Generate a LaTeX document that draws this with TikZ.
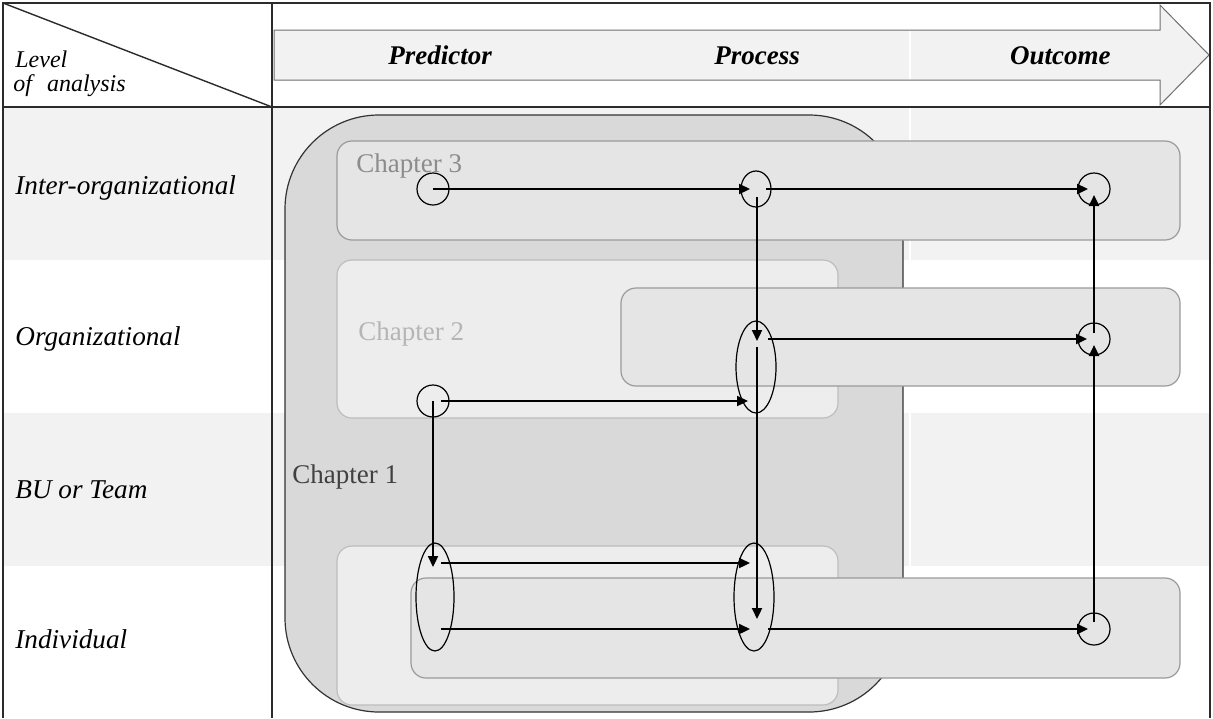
\documentclass[tikz,border=0pt]{standalone}
\usepackage{fontspec}
\setmainfont{Liberation Serif}
\usetikzlibrary{shapes.geometric,arrows.meta}
\definecolor{rowshade}{HTML}{F2F2F2}
\definecolor{chaponefill}{HTML}{D9D9D9}
\definecolor{chaponeline}{HTML}{333333}
\definecolor{boxafill}{HTML}{E5E5E5}
\definecolor{boxaline}{HTML}{9A9A9A}
\definecolor{boxbfill}{HTML}{EDEDED}
\definecolor{boxbline}{HTML}{BDBDBD}
\definecolor{arrowline}{HTML}{707070}
\definecolor{tableline}{HTML}{2B2B2B}
\definecolor{chapthree}{HTML}{8C8C8C}
\definecolor{chaptwo}{HTML}{B5B5B5}
\definecolor{chapone}{HTML}{404040}
\begin{document}
\begin{tikzpicture}[x=0.5pt,y=-0.5pt,
  rowlbl/.style={font=\fontsize{13.6pt}{16pt}\selectfont\itshape, anchor=base west, inner sep=0pt},
  hdrlbl/.style={font=\fontsize{13.5pt}{16pt}\selectfont\bfseries\itshape, anchor=base west, inner sep=0pt},
  corner/.style={font=\fontsize{12pt}{14pt}\selectfont\itshape, anchor=base west, inner sep=0pt},
  chaplbl/.style={font=\fontsize{13.5pt}{16pt}\selectfont, anchor=base west, inner sep=0pt},
  circ/.style={circle, draw=black, line width=0.6pt, minimum size=16pt, inner sep=0pt},
  ell/.style={ellipse, draw=black, line width=0.6pt, inner sep=0pt},
  arr/.style={line width=1.1pt, -{Triangle[length=5.5pt,width=5pt]}},
  boxa/.style={rounded corners=7.5pt, fill=boxafill, draw=boxaline, line width=0.6pt},
  boxb/.style={rounded corners=7.5pt, fill=boxbfill, draw=boxbline, line width=0.6pt},
  tbl/.style={draw=tableline, line width=0.7pt}
]
\useasboundingbox (0,0) rectangle (1213,718);
\fill[white] (0,0) rectangle (1213,718);

% row shading
\fill[rowshade] (3,107) rectangle (272,260);
\fill[rowshade] (272,107) rectangle (908.5,260);
\fill[rowshade] (910.5,107) rectangle (1210,260);
\fill[rowshade] (3,413) rectangle (272,566);
\fill[rowshade] (272,413) rectangle (908.5,566);
\fill[rowshade] (910.5,413) rectangle (1210,566);

% header arrow
\draw[draw=arrowline, fill=rowshade, line width=0.5pt]
  (274,30) -- (1160,30) -- (1160,5) -- (1209,55) -- (1160,105) -- (1160,80) -- (274,80) -- cycle;
\draw[white, line width=1pt] (910,31) -- (910,79);

% table lines
\draw[tbl] (3,718) -- (3,3) -- (1210,3) -- (1210,718);
\draw[tbl] (3,107) -- (1210,107);
\draw[tbl] (272,3) -- (272,718);
\draw[tbl] (3,3) -- (272,107);

% header labels
\node[corner] (level) at (15,67) {Level};
\node[corner] (ofanalysis) at (13,91) {of\hspace{7.5pt}analysis};
\node[hdrlbl] (predictor) at (388,64) {Predictor};
\node[hdrlbl] (process) at (714,64) {Process};
\node[hdrlbl, anchor=base east] (outcome) at (1111,64) {Outcome};

% row labels
\node[rowlbl] (interorg) at (15,194) {Inter-organizational};
\node[rowlbl] (org) at (15,345) {Organizational};
\node[rowlbl] (bu) at (15,498) {BU or Team};
\node[rowlbl] (indiv) at (15,648) {Individual};

% chapter 1
\draw[fill=chaponefill, draw=chaponeline, line width=0.6pt, rounded corners=47pt]
  (285,115) rectangle (903,712);
\node[chaplbl, text=chapone] (ch1) at (292,483) {Chapter 1};

% chapter 3 / chapter 2 boxes
\draw[boxa] (337,141) rectangle (1180,240);
\node[chaplbl, text=chapthree] (ch3) at (356,172) {Chapter 3};
\draw[boxb] (337,260) rectangle (838,418);
\node[chaplbl, text=chaptwo] (ch2) at (358,340) {Chapter 2};
\draw[boxa] (621,288) rectangle (1180,386);
\draw[boxb] (337,546) rectangle (838,705);
\draw[boxa] (411,578) rectangle (1180,678);

% circles and ellipses
\node[circ] (p3) at (433,189) {};
\node[ell, minimum width=15pt, minimum height=18pt] (m3) at (756,189) {};
\node[circ] (o3) at (1094,189) {};
\node[ell, minimum width=20pt, minimum height=46pt] (m2) at (756,367) {};
\node[circ] (o2) at (1094,339) {};
\node[circ] (p2) at (433,401) {};
\node[ell, minimum width=19pt, minimum height=54pt] (p1) at (435,597) {};
\node[ell, minimum width=20pt, minimum height=54pt] (m1) at (754,597) {};
\node[circ] (o1) at (1094,629) {};

% arrows
\draw[arr] (p3.center) -- ([xshift=-3pt]m3.center);
\draw[arr] ([xshift=5pt]m3.center) -- ([xshift=-3pt]o3.center);
\draw[arr] ([xshift=0.5pt,yshift=-4pt]m3.center) -- ([xshift=0.5pt,yshift=13pt]m2.center);
\draw[arr] ([xshift=6pt,yshift=14pt]m2.center) -- ([xshift=-3.5pt]o2.center);
\draw[arr] ([xshift=4pt]p2.center) -- ([xshift=-4pt,yshift=-17pt]m2.center);
\draw[arr] (p2.center) -- ([xshift=-1pt,yshift=15pt]p1.center);
\draw[arr] ([xshift=3pt,yshift=17pt]p1.center) -- ([xshift=-2pt,yshift=17pt]m1.center);
\draw[arr] ([xshift=3pt,yshift=-16pt]p1.center) -- ([xshift=-2pt,yshift=-16pt]m1.center);
\draw[arr] ([xshift=0.5pt,yshift=10pt]m2.center) -- ([xshift=1.5pt,yshift=-11pt]m1.center);
\draw[arr] ([xshift=7pt,yshift=-16pt]m1.center) -- ([xshift=-3pt]o1.center);
\draw[arr] ([yshift=3.5pt]o1.center) -- ([yshift=-3pt]o2.center);
\draw[arr] ([yshift=3pt]o2.center) -- ([yshift=-3pt]o3.center);
\end{tikzpicture}
\end{document}
